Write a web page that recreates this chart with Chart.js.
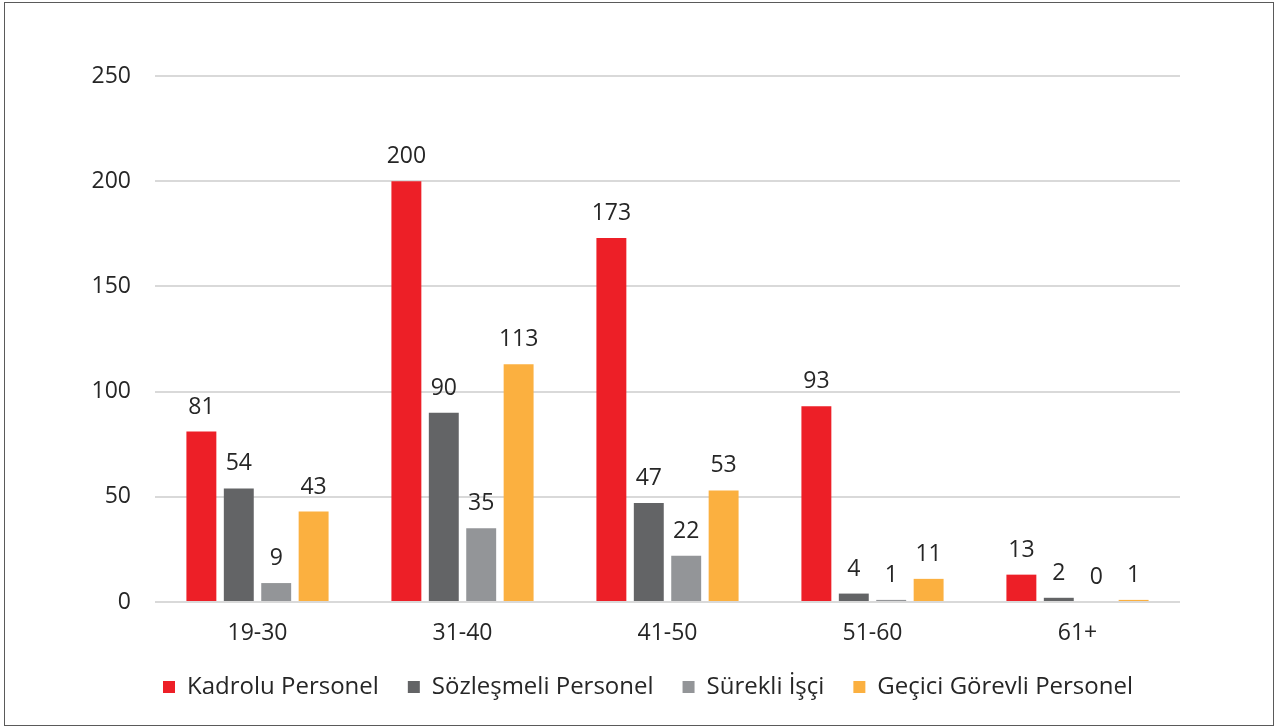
<!DOCTYPE html>
<html lang="tr">
<head>
<meta charset="utf-8">
<title>Yaş Gruplarına Göre Personel Dağılımı</title>
<script src="https://cdn.jsdelivr.net/npm/chart.js@4/dist/chart.umd.min.js"></script>
<style>
    html, body { margin: 0; padding: 0; background: #fff; }
    #kutu {
        position: absolute;
        left: 4px; top: 2px;
        width: 1270px; height: 724px;
        border: 1px solid #5a5a5a;
        box-sizing: border-box;
    }
    #wrap { position: absolute; left: 0; top: 0; width: 1279px; height: 728px; }
</style>
</head>
<body>
<div id="kutu"></div>
<div id="wrap"><canvas id="grafik" width="1279" height="728"></canvas></div>
<script>
// Yaş grupları ve personel türlerine göre sayılar
const yasGruplari = ['19-30', '31-40', '41-50', '51-60', '61+'];
const kadrolu = [81, 200, 173, 93, 13];
const sozlesmeli = [54, 90, 47, 4, 2];
const surekli = [9, 35, 22, 1, 0];
const gecici = [43, 113, 53, 11, 1];
const eksenDegerleri = [0, 50, 100, 150, 200, 250];

const yaziTipi = "'Open Sans', 'DejaVu Sans', sans-serif";
const yaziRengi = '#262626';
const yaziBoyu = 23;

// Çubukların üstüne değerleri yazan küçük eklenti
const degerEtiketleri = {
    id: 'degerEtiketleri',
    afterDatasetsDraw(chart) {
        const ctx = chart.ctx;
        ctx.save();
        ctx.font = yaziBoyu + 'px ' + yaziTipi;
        ctx.fillStyle = yaziRengi;
        ctx.textAlign = 'center';
        ctx.textBaseline = 'alphabetic';
        chart.data.datasets.forEach((ds, i) => {
            chart.getDatasetMeta(i).data.forEach((bar, j) => {
                ctx.fillText(ds.data[j], bar.x, bar.y - 18);
            });
        });
        ctx.restore();
    }
};

const ctx = document.getElementById('grafik').getContext('2d');
new Chart(ctx, {
    type: 'bar',
    data: {
        labels: yasGruplari,
        datasets: [
            { label: 'Kadrolu Personel', data: kadrolu, backgroundColor: '#ed1f27' },
            { label: 'Sözleşmeli Personel', data: sozlesmeli, backgroundColor: '#636466' },
            { label: 'Sürekli İşçi', data: surekli, backgroundColor: '#939598' },
            { label: 'Geçici Görevli Personel', data: gecici, backgroundColor: '#fbb040' }
        ]
    },
    options: {
        responsive: false,
        animation: false,
        devicePixelRatio: 1,
        layout: { padding: { top: 76, right: 0, bottom: 19, left: 17 } },
        datasets: {
            bar: { categoryPercentage: 0.73, barPercentage: 0.8 }
        },
        scales: {
            x: {
                afterFit(scale) { scale.height = 44; },
                grid: { display: false, drawTicks: false },
                border: { display: false },
                ticks: { color: yaziRengi, font: { family: yaziTipi, size: yaziBoyu }, padding: 18 }
            },
            y: {
                min: 0,
                max: 250,
                afterFit(scale) { scale.width = 138; },
                afterBuildTicks(scale) {
                    scale.ticks = eksenDegerleri.map(v => ({ value: v }));
                },
                grid: { color: '#d9d9d9', lineWidth: 2, drawTicks: false },
                border: { display: false },
                ticks: { color: yaziRengi, font: { family: yaziTipi, size: yaziBoyu }, padding: 24 }
            },
            // sağ tarafta boşluk bırakan görünmez eksen
            bosluk: {
                position: 'right',
                min: 0,
                max: 250,
                afterFit(scale) { scale.width = 99; },
                grid: { display: false, drawTicks: false },
                border: { display: false },
                ticks: { display: false }
            }
        },
        plugins: {
            legend: {
                position: 'bottom',
                labels: {
                    boxWidth: 12,
                    boxHeight: 12,
                    padding: 29,
                    color: yaziRengi,
                    font: { family: yaziTipi, size: 24 }
                }
            },
            tooltip: { enabled: false }
        }
    },
    plugins: [degerEtiketleri]
});
</script>
</body>
</html>
